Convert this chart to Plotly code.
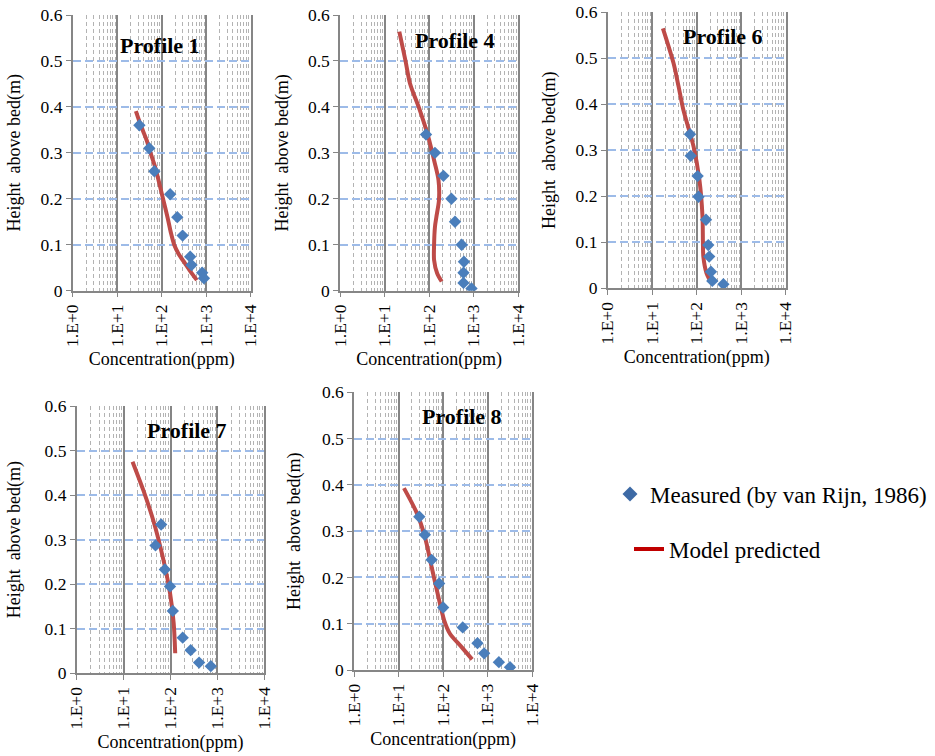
import plotly.graph_objects as go

# ---- Measured suspended-sediment profiles (van Rijn, 1986) ----
# concentration in ppm, height above bed in m
p1_meas_c = [31.5, 52.5, 68.4, 155, 224, 295, 437, 468, 813, 891]
p1_meas_h = [0.36, 0.31, 0.26, 0.21, 0.16, 0.12, 0.074, 0.056, 0.039, 0.027]
p4_meas_c = [85.1, 135, 209, 316, 380, 537, 603, 589, 589, 891]
p4_meas_h = [0.34, 0.30, 0.25, 0.20, 0.15, 0.10, 0.063, 0.039, 0.017, 0.005]
p6_meas_c = [70.8, 73.3, 105, 110, 162, 182, 191, 209, 224, 398]
p6_meas_h = [0.335, 0.288, 0.244, 0.199, 0.149, 0.094, 0.069, 0.036, 0.016, 0.009]
p7_meas_c = [63.1, 47.9, 75.9, 97.7, 112, 182, 269, 407, 724]
p7_meas_h = [0.334, 0.287, 0.233, 0.195, 0.140, 0.080, 0.052, 0.024, 0.016]
p8_meas_c = [29.2, 38.9, 55.0, 81.3, 100, 275, 589, 832, 1778, 3162]
p8_meas_h = [0.331, 0.292, 0.238, 0.187, 0.135, 0.092, 0.058, 0.036, 0.017, 0.006]

# ---- Model-predicted profiles ----
p1_model_c = [26.3, 33.9, 45.7, 56.2, 70.8, 85.1, 107, 135, 162, 191, 240, 331, 457, 617]
p1_model_h = [0.391, 0.36, 0.328, 0.30, 0.27, 0.24, 0.20, 0.16, 0.125, 0.10, 0.08, 0.06, 0.04, 0.023]
p4_model_c = [21.4, 29.5, 37.2, 61.7, 95.5, 132, 162, 166, 145, 135, 129, 129, 151, 191]
p4_model_h = [0.564, 0.50, 0.451, 0.393, 0.335, 0.28, 0.241, 0.197, 0.16, 0.139, 0.10, 0.067, 0.038, 0.02]
p6_model_c = [17.4, 30.2, 38.9, 50.1, 85.1, 115, 135, 138, 141, 166, 191]
p6_model_h = [0.565, 0.489, 0.44, 0.388, 0.308, 0.236, 0.156, 0.10, 0.069, 0.033, 0.02]
p7_model_c = [15.5, 26.3, 42.7, 70.8, 97.7, 117, 126]
p7_model_h = [0.475, 0.411, 0.344, 0.254, 0.18, 0.112, 0.045]
p8_model_c = [13.2, 25.7, 38.9, 55.0, 81.3, 105, 141, 257, 447]
p8_model_h = [0.393, 0.339, 0.288, 0.223, 0.151, 0.108, 0.079, 0.050, 0.023]

profile_names = ["Profile 1", "Profile 4", "Profile 6", "Profile 7", "Profile 8"]
measured = [(p1_meas_c, p1_meas_h), (p4_meas_c, p4_meas_h), (p6_meas_c, p6_meas_h),
            (p7_meas_c, p7_meas_h), (p8_meas_c, p8_meas_h)]
predicted = [(p1_model_c, p1_model_h), (p4_model_c, p4_model_h), (p6_model_c, p6_model_h),
             (p7_model_c, p7_model_h), (p8_model_c, p8_model_h)]

x_tick_vals = [1, 10, 100, 1000, 10000]
x_tick_text = ["1.E+0", "1.E+1", "1.E+2", "1.E+3", "1.E+4"]

# ---- layout geometry (figure 935 x 756 px) ----
W, H = 935, 756
# panel boxes in pixels: left, right, top, bottom
panels = [
    (72.7, 250.7, 15.0, 290.7),
    (340.0, 518.3, 15.0, 290.7),
    (607.7, 785.7, 12.3, 288.3),
    (76.7, 264.3, 406.0, 673.3),
    (354.0, 532.3, 392.3, 670.0),
]
# relative position of each panel's label inside its plot area
label_pos = [(0.49, 0.891), (0.645, 0.909), (0.65, 0.912), (0.59, 0.91), (0.607, 0.912)]
y_title_standoff = [15, 15, 15, 19, 17]

FONT = "Liberation Serif"
AXIS_GRAY = "#868686"
MAJOR_GRID = "#858585"
MINOR_GRID = "#b3b3b3"
H_GRID = "#9dbbe8"
MEAS_COLOR = "#4a7ebb"
MODEL_COLOR = "#be4b48"

minor_vals = [k * 10 ** d for d in range(4) for k in range(2, 10)]

fig = go.Figure()
layout = dict(
    width=W, height=H,
    margin=dict(l=0, r=0, t=0, b=0),
    paper_bgcolor="white", plot_bgcolor="white",
    font=dict(family=FONT, size=17.5, color="black"),
    showlegend=True,
    annotations=[],
)

for i, (name, (mc, mh), (pc, ph)) in enumerate(zip(profile_names, measured, predicted)):
    n = "" if i == 0 else str(i + 1)
    xa, ya = "x" + n, "y" + n
    left, right, top, bottom = panels[i]
    xdom = [left / W, right / W]
    ydom = [1 - bottom / H, 1 - top / H]

    layout["xaxis" + n] = dict(
        domain=xdom, anchor=ya, type="log", range=[0, 4],
        tickmode="array", tickvals=x_tick_vals, ticktext=x_tick_text,
        tickangle=-90, ticks="outside", ticklen=5, tickcolor=AXIS_GRAY, tickwidth=1,
        tickfont=dict(family=FONT, size=17.5, color="black"),
        showline=True, linecolor=AXIS_GRAY, linewidth=1.5,
        showgrid=True, gridcolor=MAJOR_GRID, gridwidth=1.6,
        minor=dict(tickmode="array", tickvals=minor_vals, showgrid=True,
                   gridcolor=MINOR_GRID, gridwidth=1, griddash="4px,3px", ticks=""),
        zeroline=False, automargin=False,
        title=dict(text="Concentration(ppm)", standoff=7,
                   font=dict(family=FONT, size=18, color="black")),
    )
    layout["yaxis" + n] = dict(
        domain=ydom, anchor=xa, range=[0, 0.6], tick0=0, dtick=0.1,
        ticks="outside", ticklen=5, tickcolor=AXIS_GRAY, tickwidth=1,
        tickfont=dict(family=FONT, size=17.5, color="black"),
        showline=True, linecolor=AXIS_GRAY, linewidth=1.5, mirror=True,
        showgrid=True, gridcolor=H_GRID, gridwidth=2, griddash="8px,4px",
        zeroline=False, automargin=False,
        title=dict(text="Height\u00a0 above bed(m)", standoff=y_title_standoff[i],
                   font=dict(family=FONT, size=18, color="black")),
    )

    fig.add_trace(go.Scatter(
        x=pc, y=ph, xaxis=xa, yaxis=ya, mode="lines", showlegend=False,
        line=dict(color=MODEL_COLOR, width=4, shape="spline", smoothing=0.8),
        name="Model predicted",
    ))
    fig.add_trace(go.Scatter(
        x=mc, y=mh, xaxis=xa, yaxis=ya, mode="markers", showlegend=False,
        marker=dict(symbol="diamond", size=9.5, color=MEAS_COLOR),
        name="Measured (by van Rijn, 1986)",
    ))

    lx, ly = label_pos[i]
    layout["annotations"].append(dict(
        text="<b>%s</b>" % name, xref=xa + " domain", yref=ya + " domain",
        x=lx, y=ly, xanchor="center", yanchor="middle", showarrow=False,
        font=dict(family=FONT, size=22, color="black"),
    ))

# legend entries
fig.add_trace(go.Scatter(
    x=[None], y=[None], mode="markers", name="Measured (by van Rijn, 1986)",
    marker=dict(symbol="diamond", size=11.5, color="#3d6aa5"), legend="legend",
))
fig.add_trace(go.Scatter(
    x=[None], y=[None], mode="lines", name="Model predicted",
    line=dict(color="#c00000", width=4), legend="legend2",
))

legend_font = dict(family=FONT, size=23, color="black")
layout["legend"] = dict(x=610 / W, y=1 - 494 / H, xanchor="left", yanchor="middle",
                        font=legend_font, bgcolor="rgba(0,0,0,0)", itemsizing="trace")
layout["legend2"] = dict(x=629 / W, y=1 - 549 / H, xanchor="left", yanchor="middle",
                         font=legend_font, bgcolor="rgba(0,0,0,0)", itemsizing="trace")

fig.update_layout(**layout)
fig.write_html("out.html")
